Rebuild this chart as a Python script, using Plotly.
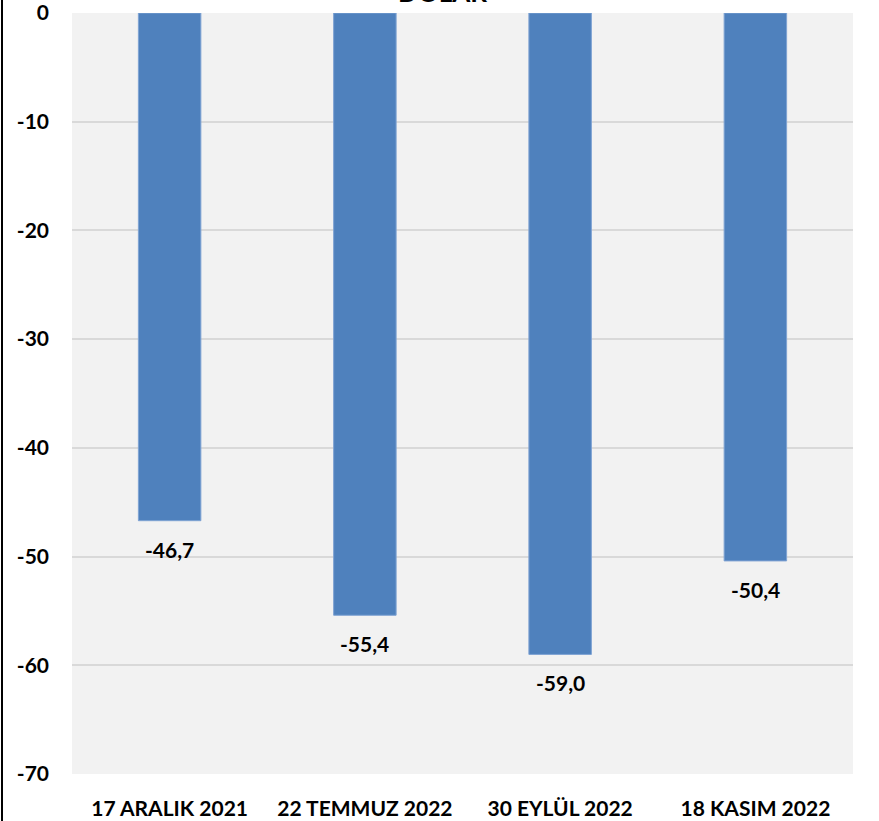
import plotly.graph_objects as go

categories = ["17 ARALIK 2021", "22 TEMMUZ 2022", "30 EYLÜL 2022", "18 KASIM 2022"]
values = [-46.7, -55.4, -59.0, -50.4]
y_ticks = [0, -10, -20, -30, -40, -50, -60, -70]
title_text = "DOLAR"

W, H = 879, 821
L, R, T, B = 72, 26, 13, 47
PW, PH = W - L - R, H - T - B

fig = go.Figure()
fig.add_trace(go.Bar(
    x=categories, y=values,
    marker=dict(color="#4f81bd", line=dict(color="#7fa3d3", width=1)),
    hoverinfo="x+y",
))

label_font = dict(family="Lato", size=21, color="#000000", weight="bold")
annotations = [
    dict(text=f"{v:.1f}".replace(".", ","), x=c, y=v, xref="x", yref="y",
         xanchor="center", yanchor="top", yshift=-14, showarrow=False,
         font=label_font)
    for c, v in zip(categories, values)
]
annotations.append(dict(
    text=title_text, xref="paper", yref="paper", x=0.474, y=1 + T / PH,
    xanchor="center", yanchor="bottom", yshift=-10, showarrow=False,
    font=dict(family="Lato", size=26, color="#000000", weight="bold"),
))

fig.update_layout(
    width=W, height=H,
    margin=dict(l=L, r=R, t=T, b=B, autoexpand=False),
    paper_bgcolor="#ffffff", plot_bgcolor="#f2f2f2",
    separators=",.",
    bargap=0.68,
    showlegend=False,
    font=dict(family="Lato", color="#000000"),
    xaxis=dict(
        showgrid=False, showline=False, zeroline=False, automargin=False,
        tickfont=dict(family="Lato", size=21, color="#000000", weight="bold"),
        ticks="", ticklabelstandoff=20,
    ),
    yaxis=dict(
        range=[-70, 0], tickvals=y_ticks, ticktext=[str(v) for v in y_ticks],
        showgrid=True, gridcolor="#d9d9d9", gridwidth=2, automargin=False,
        zeroline=False, showline=False, ticks="", ticklabeloverflow="allow",
        tickfont=dict(family="Lato", size=21, color="#000000", weight="bold"),
        ticklabelstandoff=22,
    ),
    annotations=annotations,
    shapes=[dict(
        type="line", xref="paper", yref="paper",
        x0=(2 - L) / PW, x1=(2 - L) / PW,
        y0=-B / PH - 0.01, y1=1 + T / PH + 0.01,
        line=dict(color="#000000", width=2),
    )],
)

fig.write_html("out.html", config={"displayModeBar": False},
               post_script="document.body.style.margin='0px';")
